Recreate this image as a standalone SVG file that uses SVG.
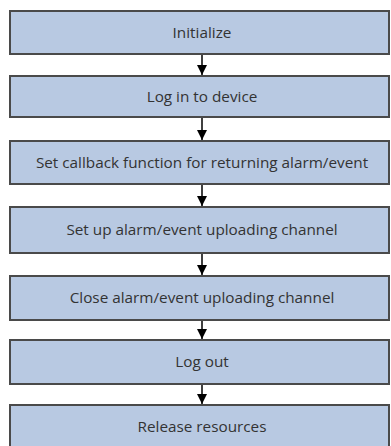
<svg xmlns="http://www.w3.org/2000/svg" width="391" height="446" viewBox="0 0 391 446">
<defs>
<style>
.box{fill:#b8c9e2;stroke:#4a4a4a;stroke-width:2}
.lbl{font-family:"Open Sans","Liberation Sans",sans-serif;font-size:15.3px;fill:#333;text-anchor:middle}
.con{stroke:#000;stroke-width:1.5;fill:none}
</style>
<marker id="ah" viewBox="0 0 10 10" refX="10" refY="5" markerWidth="10" markerHeight="10" markerUnits="userSpaceOnUse" orient="auto">
<path d="M0,0 L10,5 L0,10 Z" fill="#000"/>
</marker>
</defs>
<rect width="391" height="446" fill="#fff"/>
<g id="n1"><rect class="box" x="10" y="11" width="379" height="43"/><text class="lbl" x="202" y="38">Initialize</text></g>
<g id="n2"><rect class="box" x="10" y="76" width="379" height="41"/><text class="lbl" x="202" y="102">Log in to device</text></g>
<g id="n3"><rect class="box" x="10" y="141" width="379" height="43"/><text class="lbl" x="202" y="167.5">Set callback function for returning alarm/event</text></g>
<g id="n4"><rect class="box" x="10" y="207" width="379" height="46"/><text class="lbl" x="202" y="235">Set up alarm/event uploading channel</text></g>
<g id="n5"><rect class="box" x="10" y="276" width="379" height="44"/><text class="lbl" x="202" y="303">Close alarm/event uploading channel</text></g>
<g id="n6"><rect class="box" x="10" y="340" width="379" height="44"/><text class="lbl" x="202" y="367">Log out</text></g>
<g id="n7"><rect class="box" x="10" y="405" width="379" height="45"/><text class="lbl" x="202" y="432">Release resources</text></g>
<g id="connectors">
<line class="con" x1="202" y1="55" x2="202" y2="75" marker-end="url(#ah)"/>
<line class="con" x1="202" y1="118" x2="202" y2="140" marker-end="url(#ah)"/>
<line class="con" x1="202" y1="185" x2="202" y2="206" marker-end="url(#ah)"/>
<line class="con" x1="202" y1="254" x2="202" y2="275" marker-end="url(#ah)"/>
<line class="con" x1="202" y1="321" x2="202" y2="339" marker-end="url(#ah)"/>
<line class="con" x1="202" y1="385" x2="202" y2="404" marker-end="url(#ah)"/>
</g>
</svg>
